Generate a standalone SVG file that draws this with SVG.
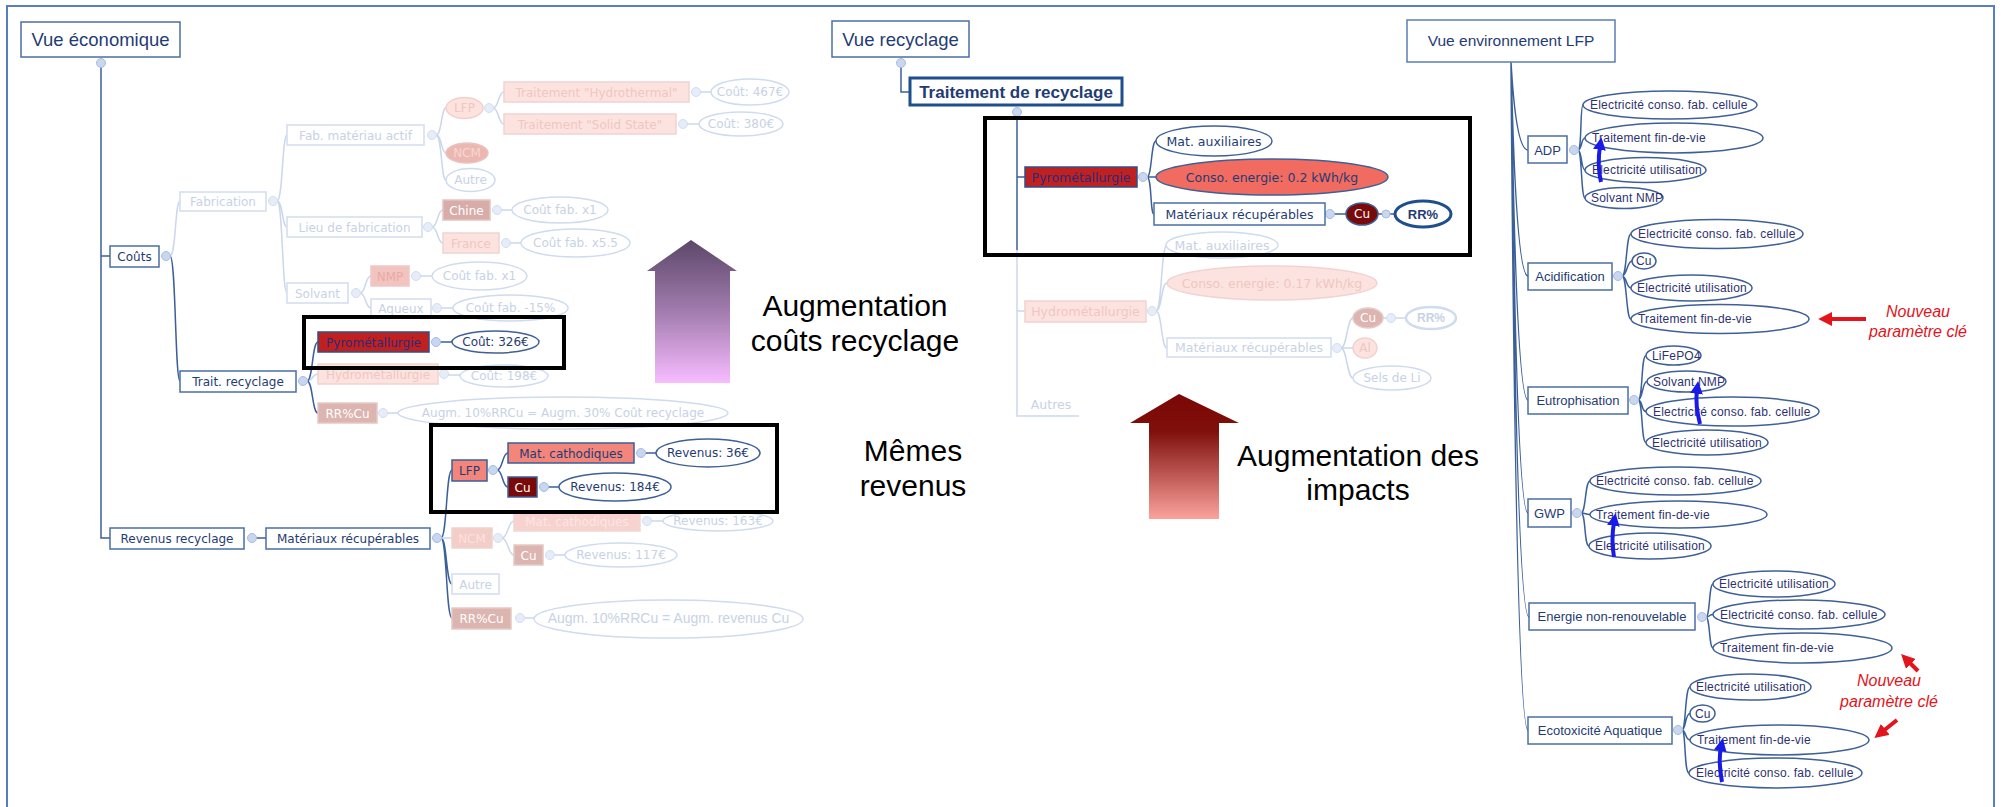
<svg xmlns="http://www.w3.org/2000/svg" width="2001" height="807" viewBox="0 0 2001 807">
<defs>
<linearGradient id="gp" x1="0" y1="240" x2="0" y2="383" gradientUnits="userSpaceOnUse"><stop offset="0" stop-color="#5c4769"/><stop offset="0.5" stop-color="#a27caf"/><stop offset="1" stop-color="#f8bcff"/></linearGradient>
<linearGradient id="gr" x1="0" y1="394" x2="0" y2="519" gradientUnits="userSpaceOnUse"><stop offset="0" stop-color="#7a0705"/><stop offset="0.3" stop-color="#80100c"/><stop offset="1" stop-color="#fca29d"/></linearGradient>
<marker id="mb" viewBox="0 0 10 10" refX="3" refY="5" markerWidth="3.2" markerHeight="3.2" orient="auto"><path d="M0,0 L10,5 L0,10 z" fill="#1a1ae8"/></marker>
<marker id="mr" viewBox="0 0 10 10" refX="3" refY="5" markerWidth="3.5" markerHeight="3.5" orient="auto"><path d="M0,0 L10,5 L0,10 z" fill="#e3141b"/></marker>
<style>
.bx{fill:#fff;stroke:#4a6fa5;stroke-width:1.5}
.bf{fill:#fff;stroke:#d3ddee;stroke-width:1.5}
.t{font-family:"DejaVu Sans",sans-serif;font-size:12px;fill:#1f3c73;text-anchor:middle}
.tm{font-size:12.5px}
.tf{fill:#c7d2e5}
.tw{fill:#fff}
.tp{fill:#f0c6c1}
.tr{fill:#2b2b7c}
.ti{font-family:"Liberation Sans",Arial,sans-serif;font-size:18.5px;fill:#1f3c73;text-anchor:middle}
.ln{fill:none;stroke:#3b5f99;stroke-width:1.5}
.lf{fill:none;stroke:#cbd7ec;stroke-width:1.5}
.d{fill:#c8d6f0;stroke:#a8bde2;stroke-width:1}
.df{fill:#e6edf8;stroke:#d3def0;stroke-width:1}
.el{fill:#fff;stroke:#3f6096;stroke-width:1.5}
.ef{fill:#fff;stroke:#cfdbee;stroke-width:1.5}
.et{font-family:"Liberation Sans",Arial,sans-serif;font-size:12px;fill:#2e3170;letter-spacing:.2px}
.ec{font-family:"Liberation Sans",Arial,sans-serif;font-size:13px;fill:#1f3c73;text-anchor:middle}
.big{font-family:"Liberation Sans",Arial,sans-serif;font-size:30px;fill:#000;text-anchor:middle}
.nv{font-family:"Liberation Sans",Arial,sans-serif;font-size:16px;font-style:italic;fill:#e3141b;text-anchor:middle}
.hl{fill:none;stroke:#000;stroke-width:4}
.ba{fill:none;stroke:#1a1ae8;stroke-width:4;marker-end:url(#mb)}
.ra{fill:none;stroke:#e3141b;stroke-width:4;marker-end:url(#mr)}
</style>
</defs>
<rect x="7" y="6" width="1987" height="840" fill="none" stroke="#5580bd" stroke-width="2"/>

<g id="connectors">
<path class="ln" d="M101,67 V538 H110 M101,256 H110"/>
<path class="lf" d="M170,256 C176,256 175,201 180,201"/>
<path class="ln" d="M170,256 C176,256 175,381 180,381"/>
<path class="lf" d="M277,201 C283,201 282,135 287,135 M277,201 C283,201 282,227 287,227 M277,201 C283,201 282,293 287,293"/>
<path class="lf" d="M436,135 C442,135 441,108 446,108 M436,135 C442,135 441,153 446,153 M436,135 C442,135 441,180 446,180"/>
<path class="lf" d="M493,108 C499,108 498,92 504,92 M493,108 C499,108 498,124 504,124 M700,92 H711 M687,124 H699"/>
<path class="lf" d="M432,227 C438,227 437,210 443,210 M432,227 C438,227 437,243 443,243 M501,210 H512 M510,243 H521"/>
<path class="lf" d="M360,293 C366,293 365,276 371,276 M360,293 C366,293 365,308 371,308 M420,276 H432 M441,308 H453"/>
<path class="lf" d="M307,381 C313,381 312,374 318,374 M448,375 H460 M387,413 H398"/>
<path class="ln" d="M307,381 C313,381 312,342 318,342 M307,381 C313,381 312,413 318,413 M440,342 H452"/>
<path class="ln" d="M256,538 H266 M441,538 C447,538 446,470 452,470 M441,538 C447,538 446,584 452,584 M441,538 C447,538 446,618 452,618"/>
<path class="lf" d="M441,538 H452 M502,538 C508,538 508,521 514,521 M502,538 C508,538 508,555 514,555 M651,521 H663 M554,555 H565 M524,618 H534"/>
<path class="ln" d="M497,470 C503,470 502,453 508,453 M497,470 C503,470 502,487 508,487 M645,453 H656 M548,487 H559"/>

<path class="ln" d="M901,67 V92 H910 M1017,116 V250 M1017,177 H1025"/>
<path class="ln" d="M1147,177 C1152,177 1151,141 1156,141 M1147,177 H1156 M1147,177 C1152,177 1150,214 1154,214 M1334,214 H1346 M1378,214 H1395"/>
<path class="lf" d="M1017,250 V416 H1079 M1017,311 H1025"/>
<path class="lf" d="M1156,311 C1162,311 1161,245 1167,245 M1156,311 C1162,311 1161,283 1167,283 M1156,311 C1162,311 1161,348 1167,348"/>
<path class="lf" d="M1341,348 C1347,348 1347,318 1353,318 M1341,348 H1353 M1341,348 C1347,348 1347,378 1353,378 M1383,318 H1406"/>

<path class="ln" d="M1511,62 Q1516,150 1528,150 M1511,62 Q1516,276 1528,276 M1511,62 Q1516,400 1528,400 M1511,62 Q1516,513 1528,513 M1511,62 Q1516,617 1529,617 M1511,62 Q1516,730 1528,730"/>
<path class="ln" d="M1578,150 C1582,150 1580,105 1583,105 M1578,150 C1582,150 1581,138 1585,138 M1578,150 C1582,150 1581,170 1585,170 M1578,150 C1582,150 1581,198 1585,198"/>
<path class="ln" d="M1622,276 C1627,276 1626,234 1631,234 M1622,276 C1627,276 1627,261 1632,261 M1622,276 C1627,276 1626,288 1631,288 M1622,276 C1627,276 1626,319 1631,319"/>
<path class="ln" d="M1638,400 C1643,400 1641,355.5 1646,355.5 M1638,400 C1643,400 1642,381.5 1647,381.5 M1638,400 C1643,400 1641,411.5 1646,411.5 M1638,400 C1643,400 1641,442.5 1646,442.5"/>
<path class="ln" d="M1581,513 C1586,513 1585,481 1590,481 M1581,513 C1586,513 1585,514.5 1590,514.5 M1581,513 C1586,513 1584,546 1589,546"/>
<path class="ln" d="M1706,617 C1710,617 1709,584 1713,584 M1706,617 C1710,617 1709,614.5 1713,614.5 M1706,617 C1710,617 1709,648 1713,648"/>
<path class="ln" d="M1682,730 C1686,730 1685,687 1690,687 M1682,730 C1686,730 1685,713.5 1690,713.5 M1682,730 C1686,730 1685,740 1690,740 M1682,730 C1686,730 1684,773 1689,773"/>
</g>

<g id="dots">
<circle class="d" cx="101" cy="63" r="4.5"/><circle class="d" cx="166" cy="256" r="4.5"/>
<circle class="df" cx="273" cy="201" r="4.5"/><circle class="df" cx="432" cy="135" r="4.5"/><circle class="df" cx="489" cy="108" r="4.5"/>
<circle class="df" cx="696" cy="92" r="4.5"/><circle class="df" cx="683" cy="124" r="4.5"/><circle class="df" cx="428" cy="227" r="4.5"/>
<circle class="df" cx="497" cy="210" r="4.5"/><circle class="df" cx="506" cy="243" r="4.5"/><circle class="df" cx="356" cy="293" r="4.5"/>
<circle class="df" cx="416" cy="276" r="4.5"/><circle class="df" cx="437" cy="308" r="4.5"/>
<circle class="d" cx="303" cy="381" r="4.5"/><circle class="d" cx="436" cy="342" r="4.5"/><circle class="df" cx="444" cy="374" r="4.5"/>
<circle class="df" cx="383" cy="413" r="4.5"/><circle class="d" cx="252" cy="538" r="4.5"/><circle class="d" cx="437" cy="538" r="4.5"/>
<circle class="d" cx="493" cy="470" r="4.5"/><circle class="d" cx="641" cy="453" r="4.5"/><circle class="d" cx="544" cy="487" r="4.5"/>
<circle class="df" cx="498" cy="538" r="4.5"/><circle class="df" cx="647" cy="521" r="4.5"/><circle class="df" cx="550" cy="555" r="4.5"/><circle class="df" cx="520" cy="618" r="4.5"/>
<circle class="d" cx="901" cy="63" r="4.5"/><circle class="d" cx="1017" cy="112" r="4.5"/><circle class="d" cx="1143" cy="177" r="4.5"/>
<circle class="d" cx="1330" cy="214" r="4.5"/><circle class="d" cx="1386" cy="214" r="4"/>
<circle class="df" cx="1152" cy="311" r="4.5"/><circle class="df" cx="1337" cy="348" r="4.5"/><circle class="df" cx="1391" cy="318" r="4.5"/>
<circle class="d" cx="1574" cy="150" r="4.5"/><circle class="d" cx="1618" cy="276" r="4.5"/><circle class="d" cx="1634" cy="400" r="4.5"/>
<circle class="d" cx="1577" cy="513" r="4.5"/><circle class="d" cx="1702" cy="617" r="4.5"/><circle class="d" cx="1678" cy="730" r="4.5"/>
</g>

<!-- Economic view -->
<g id="n-vue-eco"><rect class="bx" x="21" y="22" width="159" height="35"/><text class="ti" x="100.5" y="46">Vue économique</text></g>
<g id="n-couts"><rect class="bx" x="110" y="246" width="49" height="21"/><text class="t" x="134.5" y="260.5">Coûts</text></g>
<g id="n-fabrication"><rect class="bf" x="180" y="192" width="86" height="19"/><text class="t tf" x="223" y="205.5">Fabrication</text></g>
<g id="n-fab-mat"><rect class="bf" x="287" y="125" width="137" height="20"/><text class="t tf" x="355.5" y="139.5">Fab. matériau actif</text></g>
<g id="n-lieu"><rect class="bf" x="287" y="217" width="135" height="20"/><text class="t tf" x="354.5" y="231.5">Lieu de fabrication</text></g>
<g id="n-solvant"><rect class="bf" x="287" y="283" width="61" height="20"/><text class="t tf" x="317.5" y="297.5">Solvant</text></g>
<g id="n-lfp-e"><ellipse cx="464.5" cy="108" rx="18.5" ry="10.5" fill="#fde2de" stroke="#f2d0cc" stroke-width="1.5"/><text class="t tp" x="464.5" y="112.3">LFP</text></g>
<g id="n-ncm-e"><ellipse cx="467" cy="153" rx="21" ry="10" fill="#edb7b1" stroke="#e8c4c0" stroke-width="1.5"/><text class="t" x="467" y="157.3" style="fill:#f6d6d2">NCM</text></g>
<g id="n-autre-e"><ellipse class="ef" cx="470.5" cy="180" rx="24.5" ry="11.5"/><text class="t tf" x="470.5" y="184.3">Autre</text></g>
<g id="n-hydrothermal"><rect x="504" y="82" width="185" height="20" fill="#fde3e0" stroke="#f1d3d0" stroke-width="1.5"/><text class="t tp" x="596.5" y="96.5">Traitement "Hydrothermal"</text></g>
<g id="n-solidstate"><rect x="504" y="114" width="172" height="20" fill="#fde3e0" stroke="#f1d3d0" stroke-width="1.5"/><text class="t tp" x="590" y="128.5">Traitement "Solid State"</text></g>
<g id="n-c467"><ellipse class="ef" cx="750" cy="92" rx="39" ry="13"/><text class="t tf" x="750" y="96.3">Coût: 467€</text></g>
<g id="n-c380"><ellipse class="ef" cx="741" cy="124" rx="42" ry="12"/><text class="t tf" x="741" y="128.3">Coût: 380€</text></g>
<g id="n-chine"><rect x="443" y="200" width="47" height="20" fill="#d8aca8" stroke="#e2c4c1" stroke-width="1.5"/><text class="t tw" x="466.5" y="214.5">Chine</text></g>
<g id="n-france"><rect x="443" y="233" width="56" height="20" fill="#fde3e0" stroke="#f1d3d0" stroke-width="1.5"/><text class="t tp" x="471" y="247.5">France</text></g>
<g id="n-cx1a"><ellipse class="ef" cx="560" cy="210" rx="48" ry="13"/><text class="t tf" x="560" y="214.3">Coût fab. x1</text></g>
<g id="n-cx55"><ellipse class="ef" cx="575.5" cy="243" rx="54.5" ry="14"/><text class="t tf" x="575.5" y="247.3">Coût fab. x5.5</text></g>
<g id="n-nmp"><rect x="371" y="266" width="38" height="20" fill="#f3c4bf" stroke="#ecc9c6" stroke-width="1.5"/><text class="t" x="390" y="280.5" style="fill:#e8aaa4">NMP</text></g>
<g id="n-aqueux"><rect class="bf" x="371" y="299" width="60" height="19"/><text class="t tf" x="401" y="312.5">Aqueux</text></g>
<g id="n-cx1b"><ellipse class="ef" cx="479.5" cy="276" rx="47.5" ry="14"/><text class="t tf" x="479.5" y="280.3">Coût fab. x1</text></g>
<g id="n-c15"><ellipse class="ef" cx="510.5" cy="308" rx="57.5" ry="13"/><text class="t tf" x="510.5" y="312.3">Coût fab. -15%</text></g>
<g id="n-trait"><rect class="bx" x="180" y="371" width="116" height="21"/><text class="t" x="238" y="385.5">Trait. recyclage</text></g>
<g id="n-pyro-l"><rect x="318" y="332" width="111" height="20" fill="#c0211f" stroke="#2f4f8a" stroke-width="1.5"/><text class="t tr" x="373.5" y="346.5">Pyrométallurgie</text></g>
<g id="n-c326"><ellipse class="el" cx="495.5" cy="342" rx="43.5" ry="11"/><text class="t" x="495.5" y="346.3">Coût: 326€</text></g>
<g id="n-hydro-l"><rect x="318" y="364" width="120" height="20" fill="#fde3e0" stroke="#f1d3d0" stroke-width="1.5"/><text class="t tp" x="378" y="378.5">Hydrométallurgie</text></g>
<g id="n-c198"><ellipse class="ef" cx="504" cy="376" rx="44" ry="11"/><text class="t tf" x="504" y="380.3">Coût: 198€</text></g>
<g id="n-rrcu1"><rect x="318" y="403" width="59" height="20" fill="#dcb4b0" stroke="#e5c9c6" stroke-width="1.5"/><text class="t tw" x="347.5" y="417.5">RR%Cu</text></g>
<g id="n-augm1"><ellipse class="ef" cx="563" cy="413" rx="165" ry="16"/><text class="t tf" x="563" y="417.3">Augm. 10%RRCu = Augm. 30% Coût recyclage</text></g>
<g id="n-revenus"><rect class="bx" x="110" y="528" width="134" height="21"/><text class="t" x="177" y="542.5">Revenus recyclage</text></g>
<g id="n-matrec-l"><rect class="bx" x="266" y="528" width="164" height="21"/><text class="t" x="348" y="542.5">Matériaux récupérables</text></g>
<g id="n-lfp-b"><rect x="452" y="460" width="35" height="21" fill="#f4857b" stroke="#3b5f99" stroke-width="1.5"/><text class="t" x="469.5" y="474.5">LFP</text></g>
<g id="n-matcath"><rect x="508" y="443" width="126" height="20" fill="#f4857b" stroke="#3b5f99" stroke-width="1.5"/><text class="t" x="571" y="457.5">Mat. cathodiques</text></g>
<g id="n-cu-l"><rect x="508" y="477" width="29" height="20" fill="#7a0a0a" stroke="#3b5f99" stroke-width="1.5"/><text class="t tw" x="522.5" y="491.5">Cu</text></g>
<g id="n-r36"><ellipse class="el" cx="708" cy="453" rx="52" ry="14"/><text class="t" x="708" y="457.3">Revenus: 36€</text></g>
<g id="n-r184"><ellipse class="el" cx="615" cy="487" rx="56" ry="14"/><text class="t" x="615" y="491.3">Revenus: 184€</text></g>
<g id="n-ncm-b"><rect x="452" y="528" width="40" height="20" fill="#f4cdc9" stroke="#ecd3d0" stroke-width="1.5"/><text class="t" x="472" y="542.5" style="fill:#f9e1de">NCM</text></g>
<g id="n-matcath-f"><rect x="514" y="512" width="126" height="19" fill="#f7d2ce" stroke="#eed8d5" stroke-width="1.5"/><text class="t" x="577" y="525.5" style="fill:#fbe6e3">Mat. cathodiques</text></g>
<g id="n-cu-f"><rect x="514" y="545" width="29" height="20" fill="#dcb4b0" stroke="#e5c9c6" stroke-width="1.5"/><text class="t tw" x="528.5" y="559.5">Cu</text></g>
<g id="n-r163"><ellipse class="ef" cx="718" cy="521" rx="55" ry="10"/><text class="t tf" x="718" y="525.3">Revenus: 163€</text></g>
<g id="n-r117"><ellipse class="ef" cx="621" cy="555" rx="56" ry="12"/><text class="t tf" x="621" y="559.3">Revenus: 117€</text></g>
<g id="n-autre-b"><rect class="bf" x="452" y="574" width="47" height="20"/><text class="t tf" x="475.5" y="588.5">Autre</text></g>
<g id="n-rrcu2"><rect x="452" y="608" width="59" height="21" fill="#dcb4b0" stroke="#e5c9c6" stroke-width="1.5"/><text class="t tw" x="481.5" y="622.5">RR%Cu</text></g>
<g id="n-augm2"><ellipse class="ef" cx="668.5" cy="619" rx="134.5" ry="19"/><text class="t tf" x="668.5" y="623.3" style="font-family:'Liberation Sans',Arial,sans-serif;font-size:14px">Augm. 10%RRCu = Augm. revenus Cu</text></g>
<rect id="hl-1" class="hl" x="304" y="317" width="260" height="51"/>
<rect id="hl-2" class="hl" x="431" y="425" width="346" height="87"/>

<!-- Middle -->
<g id="n-vue-rec"><rect class="bx" x="832" y="21" width="137" height="36"/><text class="ti" x="900.5" y="46">Vue recyclage</text></g>
<g id="n-trait-rec"><rect x="910" y="78" width="212" height="27" fill="#fff" stroke="#1f4e8c" stroke-width="3"/><text class="ti" x="1016" y="97.5" style="font-size:17px;font-weight:bold">Traitement de recyclage</text></g>
<g id="n-pyro-m"><rect x="1025" y="167" width="112" height="20" fill="#c0211f" stroke="#2f4f8a" stroke-width="1.5"/><text class="t tm tr" x="1081" y="181.5">Pyrométallurgie</text></g>
<g id="n-mataux"><ellipse class="el" cx="1214" cy="141" rx="58" ry="15"/><text class="t tm" x="1214" y="145.5">Mat. auxiliaires</text></g>
<g id="n-conso"><ellipse cx="1272" cy="177" rx="116" ry="18" fill="#f26b60" stroke="#3f6096" stroke-width="1.5"/><text class="t tm" x="1272" y="181.5">Conso. energie: 0.2 kWh/kg</text></g>
<g id="n-matrec-m"><rect class="bx" x="1154" y="203" width="171" height="22"/><text class="t tm" x="1239.5" y="218.5">Matériaux récupérables</text></g>
<g id="n-cu-m"><ellipse cx="1362" cy="214" rx="16" ry="11" fill="#7a0a0a" stroke="#3f6096" stroke-width="1.5"/><text class="t tw" x="1362" y="218.3">Cu</text></g>
<g id="n-rr-m"><ellipse cx="1423" cy="214" rx="28" ry="13" fill="#fff" stroke="#1f4e8c" stroke-width="3"/><text class="t" x="1423" y="218.5" style="font-family:'Liberation Sans',Arial,sans-serif;font-weight:bold;font-size:13px">RR%</text></g>
<g id="n-hydro-m"><rect x="1025" y="301" width="121" height="21" fill="#fde3e0" stroke="#f1d3d0" stroke-width="1.5"/><text class="t tm tp" x="1085.5" y="315.5">Hydrométallurgie</text></g>
<g id="n-mataux-f"><ellipse class="ef" cx="1222" cy="245" rx="56" ry="13"/><text class="t tm tf" x="1222" y="249.5">Mat. auxiliaires</text></g>
<g id="n-conso-f"><ellipse cx="1272" cy="283" rx="105" ry="17" fill="#fde3e0" stroke="#f1d3d0" stroke-width="1.5"/><text class="t tm tp" x="1272" y="287.5">Conso. energie: 0.17 kWh/kg</text></g>
<g id="n-matrec-f"><rect class="bf" x="1167" y="338" width="164" height="19"/><text class="t tm tf" x="1249" y="351.5">Matériaux récupérables</text></g>
<g id="n-cu-mf"><ellipse cx="1368" cy="318" rx="15" ry="10" fill="#dcb4b0" stroke="#e5c9c6" stroke-width="1.5"/><text class="t tw" x="1368" y="322.3">Cu</text></g>
<g id="n-rr-mf"><ellipse class="ef" cx="1431" cy="318" rx="25" ry="11" style="stroke-width:2.5"/><text class="t tf" x="1431" y="322.3" style="font-family:'Liberation Sans',Arial,sans-serif;font-weight:bold">RR%</text></g>
<g id="n-al"><ellipse cx="1365" cy="348" rx="12" ry="10" fill="#fde3e0" stroke="#f1d3d0" stroke-width="1.5"/><text class="t tp" x="1365" y="352.3">Al</text></g>
<g id="n-sels"><ellipse class="ef" cx="1392" cy="378" rx="39" ry="12"/><text class="t tf" x="1392" y="382.3">Sels de Li</text></g>
<g id="n-autres"><text class="t tm tf" x="1051" y="409">Autres</text></g>
<rect id="hl-3" class="hl" x="985" y="118" width="485" height="137"/>

<!-- Arrows and captions -->
<g id="arrow-couts"><polygon points="691,240 737,271 730,271 730,383 655,383 655,271 647,271" fill="url(#gp)"/></g>
<g id="arrow-impacts"><polygon points="1179,394 1239,423 1219,423 1219,519 1149,519 1149,423 1130,423" fill="url(#gr)"/></g>
<g id="cap-couts"><text class="big" x="855" y="316">Augmentation</text><text class="big" x="855" y="351">coûts recyclage</text></g>
<g id="cap-revenus"><text class="big" x="913" y="461">Mêmes</text><text class="big" x="913" y="496">revenus</text></g>
<g id="cap-impacts"><text class="big" x="1358" y="466">Augmentation des</text><text class="big" x="1358" y="500">impacts</text></g>

<!-- Environment view -->
<g id="n-vue-env"><rect x="1407" y="20" width="208" height="42" fill="#fff" stroke="#5a7db5" stroke-width="1.5"/><text class="ti" x="1511" y="46" style="font-size:15.5px">Vue environnement LFP</text></g>
<g id="n-adp"><rect class="bx" x="1528" y="136" width="39" height="27"/><text class="ec" x="1547.5" y="154.5">ADP</text></g>
<g id="n-acid"><rect class="bx" x="1528" y="263" width="84" height="27"/><text class="ec" x="1570" y="281">Acidification</text></g>
<g id="n-eutro"><rect class="bx" x="1528" y="387" width="100" height="27"/><text class="ec" x="1578" y="405">Eutrophisation</text></g>
<g id="n-gwp"><rect class="bx" x="1528" y="499" width="43" height="28"/><text class="ec" x="1549.5" y="518">GWP</text></g>
<g id="n-energie"><rect class="bx" x="1529" y="603" width="166" height="27"/><text class="ec" x="1612" y="621">Energie non-renouvelable</text></g>
<g id="n-ecotox"><rect class="bx" x="1528" y="717" width="144" height="27"/><text class="ec" x="1600" y="735">Ecotoxicité Aquatique</text></g>

<g id="n-adp-leaves">
<ellipse class="el" cx="1670" cy="105" rx="87" ry="14"/><text class="et" x="1590" y="109">Electricité conso. fab. cellule</text>
<ellipse class="el" cx="1674" cy="138" rx="89" ry="15"/><text class="et" x="1592" y="142">Traitement fin-de-vie</text>
<ellipse class="el" cx="1645.5" cy="170" rx="60.5" ry="12.5"/><text class="et" x="1592" y="174">Electricité utilisation</text>
<ellipse class="el" cx="1624" cy="198" rx="39" ry="10.5"/><text class="et" x="1591" y="202">Solvant NMP</text>
</g>
<g id="n-acid-leaves">
<ellipse class="el" cx="1717" cy="234" rx="86" ry="14.5"/><text class="et" x="1638" y="238">Electricité conso. fab. cellule</text>
<ellipse class="el" cx="1644" cy="261" rx="12" ry="8"/><text class="et" x="1636" y="265">Cu</text>
<ellipse class="el" cx="1691.5" cy="288" rx="60.5" ry="13"/><text class="et" x="1637" y="292">Electricité utilisation</text>
<ellipse class="el" cx="1720" cy="319" rx="89" ry="14.5"/><text class="et" x="1638" y="323">Traitement fin-de-vie</text>
</g>
<g id="n-eutro-leaves">
<ellipse class="el" cx="1673.5" cy="355.5" rx="27.5" ry="9.5"/><text class="et" x="1652" y="359.5">LiFePO4</text>
<ellipse class="el" cx="1686.5" cy="381.5" rx="39.5" ry="10.5"/><text class="et" x="1653" y="385.5">Solvant NMP</text>
<ellipse class="el" cx="1732.5" cy="411.5" rx="86.5" ry="14.5"/><text class="et" x="1653" y="415.5">Electricité conso. fab. cellule</text>
<ellipse class="el" cx="1707" cy="442.5" rx="61" ry="12.5"/><text class="et" x="1652" y="446.5">Electricité utilisation</text>
</g>
<g id="n-gwp-leaves">
<ellipse class="el" cx="1675.5" cy="481" rx="85.5" ry="14"/><text class="et" x="1596" y="485">Electricité conso. fab. cellule</text>
<ellipse class="el" cx="1678.5" cy="514.5" rx="88.5" ry="13.5"/><text class="et" x="1596" y="518.5">Traitement fin-de-vie</text>
<ellipse class="el" cx="1650" cy="546" rx="61" ry="13"/><text class="et" x="1595" y="550">Electricité utilisation</text>
</g>
<g id="n-energie-leaves">
<ellipse class="el" cx="1774" cy="584" rx="61" ry="13"/><text class="et" x="1719" y="588">Electricité utilisation</text>
<ellipse class="el" cx="1799" cy="614.5" rx="86" ry="14.5"/><text class="et" x="1720" y="618.5">Electricité conso. fab. cellule</text>
<ellipse class="el" cx="1802.5" cy="648" rx="89.5" ry="15"/><text class="et" x="1720" y="652">Traitement fin-de-vie</text>
</g>
<g id="n-ecotox-leaves">
<ellipse class="el" cx="1750.5" cy="687" rx="60.5" ry="13"/><text class="et" x="1696" y="691">Electricité utilisation</text>
<ellipse class="el" cx="1702.5" cy="713.5" rx="12.5" ry="8.5"/><text class="et" x="1695" y="717.5">Cu</text>
<ellipse class="el" cx="1779.5" cy="740" rx="89.5" ry="15"/><text class="et" x="1697" y="744">Traitement fin-de-vie</text>
<ellipse class="el" cx="1775.5" cy="773" rx="86.5" ry="15"/><text class="et" x="1696" y="777">Electricité conso. fab. cellule</text>
</g>

<g id="blue-arrows">
<path class="ba" d="M1601,182 Q1597,165 1600,146"/>
<path class="ba" d="M1700,424 Q1695,405 1697,390"/>
<path class="ba" d="M1614,557 Q1611,540 1614,522"/>
<path class="ba" d="M1722,782 Q1718,762 1721,747"/>
</g>
<g id="red-arrows">
<path class="ra" d="M1866,319 H1828"/>
<path class="ra" d="M1918,671 L1908,661"/>
<path class="ra" d="M1897,720 L1882,732"/>
</g>
<g id="notes">
<text class="nv" x="1918" y="317">Nouveau</text><text class="nv" x="1918" y="337">paramètre clé</text>
<text class="nv" x="1889" y="686">Nouveau</text><text class="nv" x="1889" y="707">paramètre clé</text>
</g>
</svg>
